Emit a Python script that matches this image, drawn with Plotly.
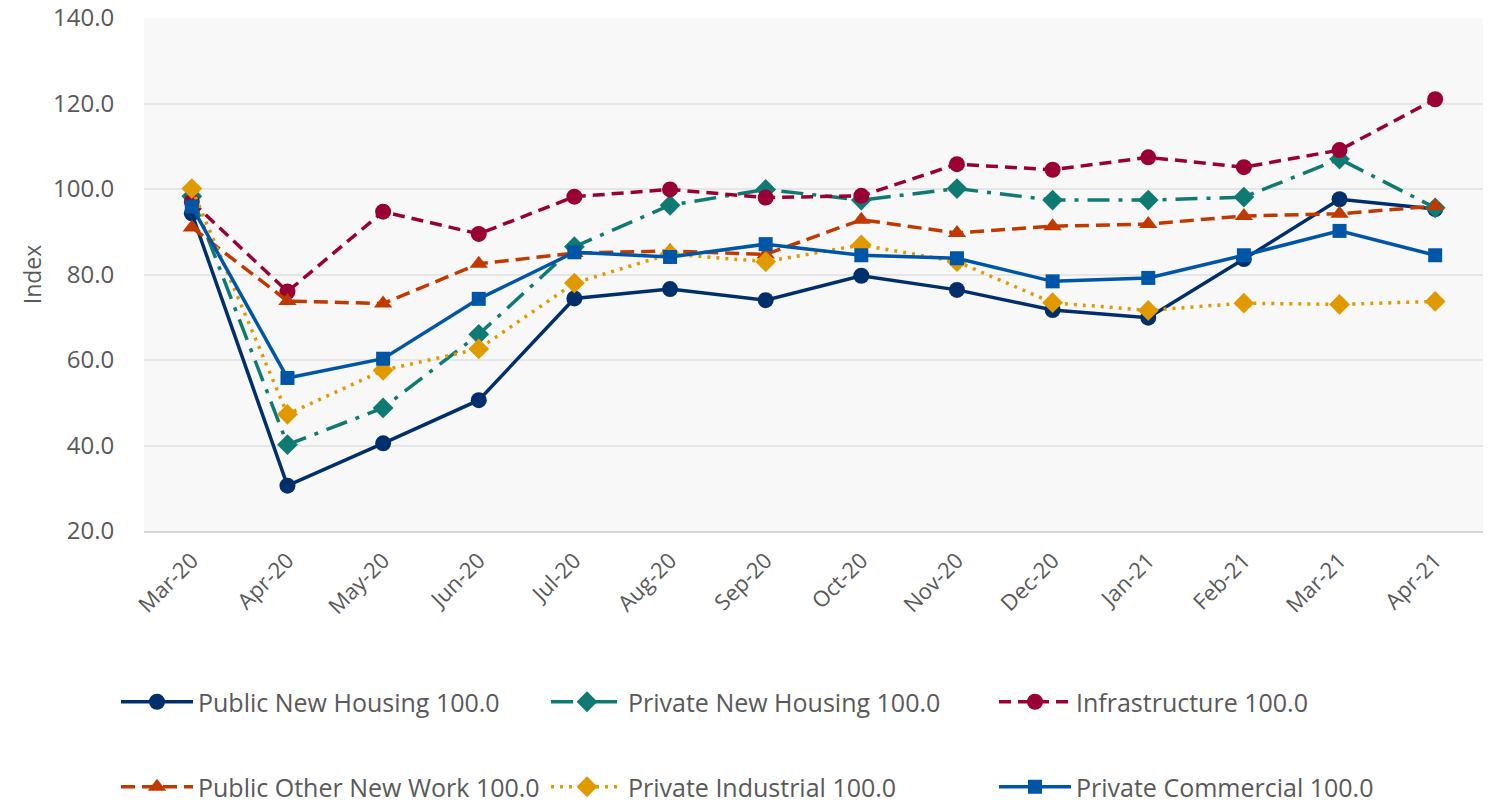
import plotly.graph_objects as go

months = ["Mar-20", "Apr-20", "May-20", "Jun-20", "Jul-20", "Aug-20", "Sep-20",
          "Oct-20", "Nov-20", "Dec-20", "Jan-21", "Feb-21", "Mar-21", "Apr-21"]

public_new_housing = [94.3, 30.6, 40.5, 50.6, 74.4, 76.6, 74.0, 79.7, 76.4, 71.7, 69.9, 83.6, 97.6, 95.3]
private_new_housing = [98.3, 40.2, 48.8, 66.0, 86.5, 96.2, 99.9, 97.4, 100.1, 97.4, 97.4, 98.1, 107.0, 95.6]
infrastructure = [97.0, 76.0, 94.7, 89.5, 98.2, 99.9, 98.0, 98.4, 105.8, 104.5, 107.4, 105.1, 109.1, 121.0]
public_other_new_work = [91.0, 73.8, 73.2, 82.5, 85.0, 85.5, 84.7, 92.8, 89.7, 91.3, 91.8, 93.7, 94.2, 96.0]
private_industrial = [100.1, 47.3, 57.6, 62.6, 78.0, 84.8, 83.0, 86.9, 83.0, 73.4, 71.6, 73.3, 73.0, 73.7]
private_commercial = [95.9, 55.8, 60.3, 74.3, 85.2, 84.1, 87.1, 84.5, 83.8, 78.4, 79.2, 84.5, 90.2, 84.5]

series = [
    ("Public New Housing 100.0", public_new_housing, "#002F6C", "solid", "circle"),
    ("Private New Housing 100.0", private_new_housing, "#0F7A72", "22px,9px,4px,9px", "diamond"),
    ("Infrastructure 100.0", infrastructure, "#990033", "12px,7px", "circle"),
    ("Public Other New Work 100.0", public_other_new_work, "#C03A00", "14px,7px", "triangle-up"),
    ("Private Industrial 100.0", private_industrial, "#E09A00", "3px,6px", "diamond"),
    ("Private Commercial 100.0", private_commercial, "#0056A6", "solid", "square"),
]

# legend slot positions (container pixels): 3 columns x 2 rows
legend_x = [116, 546, 994]
legend_y = [702, 787]

FONT = "Open Sans"
fig = go.Figure()
legend_layouts = {}
for i, (name, vals, color, dash, sym) in enumerate(series):
    key = "legend" if i == 0 else f"legend{i + 1}"
    fig.add_trace(go.Scatter(
        x=months, y=vals, name=name, mode="lines+markers",
        line=dict(color=color, width=3.5, dash=dash),
        marker=dict(color=color, size=16 if sym != "square" else 14, symbol=sym),
        legend=key,
    ))
    legend_layouts[key] = dict(
        orientation="h", xref="container", yref="container",
        yanchor="middle", xanchor="left",
        x=legend_x[i % 3] / 1488, y=1 - legend_y[i // 3] / 802,
        font=dict(family=FONT, size=25, color="#595959"),
        itemwidth=72, bgcolor="rgba(0,0,0,0)",
    )

fig.update_layout(
    width=1488, height=802,
    margin=dict(l=144, r=5, t=18, b=271, autoexpand=False),
    paper_bgcolor="white", plot_bgcolor="#F8F8F8",
    font=dict(family=FONT, color="#595959"),
    xaxis=dict(
        type="category", tickangle=-45, showgrid=False, automargin=False,
        tickfont=dict(family=FONT, size=22, color="#595959"),
        showline=True, linecolor="#D9D9D9", linewidth=2,
        ticks="outside", tickcolor="rgba(0,0,0,0)", ticklen=6, range=[-0.5, 13.5],
    ),
    yaxis=dict(
        range=[20, 140], dtick=20, tickformat=".1f", automargin=False,
        gridcolor="#E6E6E6", gridwidth=1.5, zeroline=False,
        tickfont=dict(family=FONT, size=24, color="#595959"),
        title=dict(text="Index", font=dict(family=FONT, size=23, color="#595959"), standoff=4),
        ticks="outside", tickcolor="rgba(0,0,0,0)", ticklen=24,
    ),
    showlegend=True,
    **legend_layouts,
)

fig.write_html("out.html", config={"displayModeBar": False})
with open("out.html", "r", encoding="utf-8") as f:
    html = f.read()
html = html.replace("<head>", "<head><style>html,body{margin:0;padding:0;overflow:hidden;}</style>", 1)
with open("out.html", "w", encoding="utf-8") as f:
    f.write(html)
